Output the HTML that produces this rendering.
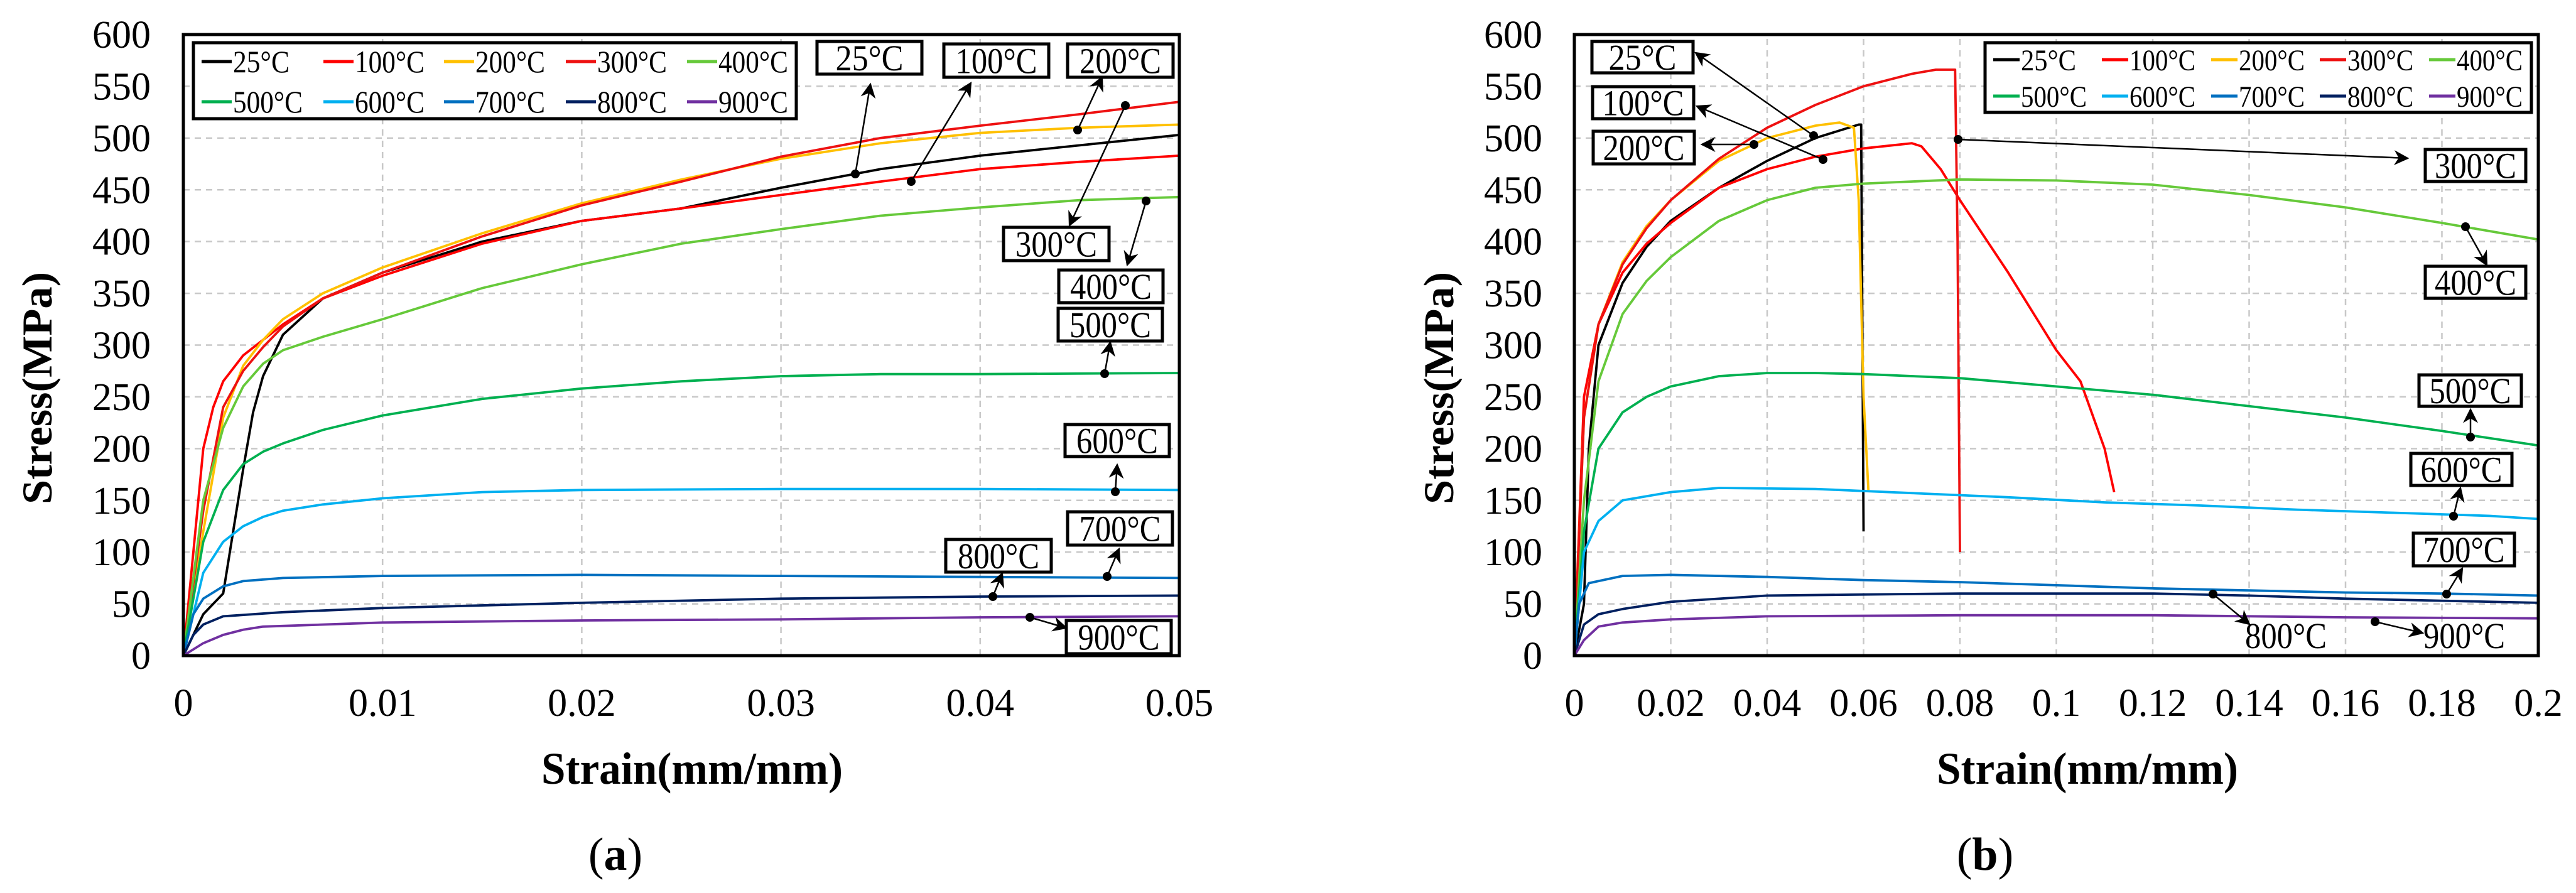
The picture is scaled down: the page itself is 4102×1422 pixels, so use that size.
<!DOCTYPE html>
<html><head><meta charset="utf-8"><style>
html,body{margin:0;padding:0;background:#fff}
svg{display:block}
text{font-family:"Liberation Serif",serif}
</style></head><body>
<svg id="root" width="4102" height="1422" viewBox="0 0 4102 1422" xmlns="http://www.w3.org/2000/svg"></svg>
<script>
// ---- data ----
const seriesNames = ["25°C","100°C","200°C","300°C","400°C","500°C","600°C","700°C","800°C","900°C"];
const seriesColors = ["#000000","#ff0000","#ffc000","#ee1111","#66c93a","#00b050","#00b0f0","#0070c0","#002060","#7030a0"];
const yTicks = [0,50,100,150,200,250,300,350,400,450,500,550,600];
const xTicksA = [0,0.01,0.02,0.03,0.04,0.05];
const xTickLabelsA = ["0","0.01","0.02","0.03","0.04","0.05"];
const xTicksB = [0,0.02,0.04,0.06,0.08,0.1,0.12,0.14,0.16,0.18,0.2];
const xTickLabelsB = ["0","0.02","0.04","0.06","0.08","0.1","0.12","0.14","0.16","0.18","0.2"];

const a25 = [[0,0],[0.001,40],[0.002,60],[0.0025,120],[0.003,180],[0.0035,235],[0.004,270],[0.005,310],[0.007,345],[0.01,370],[0.015,400],[0.02,420],[0.025,432],[0.03,452],[0.035,470],[0.04,483],[0.045,493],[0.05,503]];
const a100 = [[0,0],[0.0005,100],[0.001,200],[0.0015,240],[0.002,265],[0.003,290],[0.005,320],[0.007,345],[0.01,367],[0.015,398],[0.02,420],[0.025,432],[0.03,445],[0.035,458],[0.04,470],[0.045,477],[0.05,483]];
const a200 = [[0,0],[0.001,120],[0.002,230],[0.003,280],[0.004,305],[0.005,325],[0.007,350],[0.01,375],[0.015,408],[0.02,437],[0.025,460],[0.03,480],[0.035,495],[0.04,505],[0.045,510],[0.05,513]];
const a300 = [[0,0],[0.001,140],[0.002,240],[0.003,275],[0.004,298],[0.005,318],[0.007,345],[0.01,370],[0.015,405],[0.02,435],[0.025,458],[0.03,482],[0.035,500],[0.04,512],[0.045,523],[0.05,535]];
const a400 = [[0,0],[0.001,150],[0.002,220],[0.003,260],[0.004,282],[0.005,295],[0.007,308],[0.01,325],[0.015,355],[0.02,378],[0.025,398],[0.03,412],[0.035,425],[0.04,433],[0.045,440],[0.05,443]];
const a500 = [[0,0],[0.001,110],[0.002,160],[0.003,185],[0.004,197],[0.005,205],[0.007,218],[0.01,232],[0.015,248],[0.02,258],[0.025,265],[0.03,270],[0.035,272],[0.04,272],[0.05,273]];
const a600 = [[0,0],[0.001,80],[0.002,110],[0.003,125],[0.004,134],[0.005,140],[0.007,146],[0.01,152],[0.015,158],[0.02,160],[0.03,161],[0.04,161],[0.05,160]];
const a700 = [[0,0],[0.0005,40],[0.001,55],[0.002,67],[0.003,72],[0.005,75],[0.01,77],[0.02,78],[0.03,77],[0.04,76],[0.05,75]];
const a800 = [[0,0],[0.0005,20],[0.001,30],[0.002,38],[0.005,42],[0.01,46],[0.02,51],[0.03,55],[0.04,57],[0.05,58]];
const a900 = [[0,0],[0.001,12],[0.002,20],[0.003,25],[0.004,28],[0.01,32],[0.02,34],[0.03,35],[0.04,37],[0.05,38]];

const b25 = [[0,0],[0.002,50],[0.003,200],[0.005,300],[0.01,360],[0.015,395],[0.02,420],[0.03,452],[0.04,478],[0.05,500],[0.059,513],[0.0595,513],[0.06,120]];
const b100 = [[0,0],[0.002,250],[0.005,320],[0.01,370],[0.015,398],[0.02,418],[0.03,452],[0.04,470],[0.05,482],[0.06,490],[0.07,495],[0.072,492],[0.076,470],[0.08,440],[0.09,370],[0.1,295],[0.105,265],[0.11,200],[0.112,158]];
const b200 = [[0,0],[0.002,230],[0.005,320],[0.01,380],[0.015,415],[0.02,440],[0.03,478],[0.04,500],[0.05,512],[0.055,515],[0.058,510],[0.059,440],[0.06,250],[0.061,160]];
const b300 = [[0,0],[0.002,230],[0.005,320],[0.01,378],[0.015,413],[0.02,440],[0.03,480],[0.04,510],[0.05,532],[0.06,550],[0.07,562],[0.075,566],[0.079,566],[0.0795,400],[0.08,100]];
const b400 = [[0,0],[0.002,150],[0.005,265],[0.01,330],[0.015,362],[0.02,385],[0.03,420],[0.04,440],[0.05,452],[0.06,456],[0.08,460],[0.1,459],[0.12,455],[0.14,445],[0.16,433],[0.18,418],[0.2,402]];
const b500 = [[0,0],[0.002,120],[0.005,200],[0.01,235],[0.015,250],[0.02,260],[0.03,270],[0.04,273],[0.05,273],[0.06,272],[0.08,268],[0.1,260],[0.12,252],[0.14,241],[0.16,230],[0.18,217],[0.2,203]];
const b600 = [[0,0],[0.002,100],[0.005,130],[0.01,150],[0.02,158],[0.03,162],[0.05,161],[0.07,157],[0.09,153],[0.11,148],[0.13,145],[0.15,141],[0.17,138],[0.19,135],[0.2,132]];
const b700 = [[0,0],[0.001,50],[0.003,70],[0.01,77],[0.02,78],[0.04,76],[0.06,73],[0.08,71],[0.1,68],[0.12,65],[0.14,63],[0.16,61],[0.18,60],[0.2,58]];
const b800 = [[0,0],[0.002,30],[0.005,40],[0.01,45],[0.02,52],[0.04,58],[0.06,59],[0.08,60],[0.1,60],[0.12,60],[0.14,58],[0.16,55],[0.18,53],[0.2,51]];
const b900 = [[0,0],[0.002,15],[0.005,28],[0.01,32],[0.02,35],[0.04,38],[0.08,39],[0.12,39],[0.16,37],[0.2,36]];

const seriesA = [a25,a100,a200,a300,a400,a500,a600,a700,a800,a900];
const seriesB = [b25,b100,b200,b300,b400,b500,b600,b700,b800,b900];

const NS = "http://www.w3.org/2000/svg";
const root = document.getElementById('root');
function el(tag, attrs, parent){const e=document.createElementNS(NS,tag);for(const k in attrs)e.setAttribute(k,attrs[k]);(parent||root).appendChild(e);return e;}

const defs = el('defs',{});
const mk = el('marker',{id:'arr',viewBox:'0 0 10 10',refX:'9',refY:'5',markerWidth:'24',markerHeight:'24',orient:'auto',markerUnits:'userSpaceOnUse'},defs);
el('path',{d:'M0,0 L10,5 L0,10 L3,5 Z',fill:'#000'},mk);

function chart(cfg){
  const g = el('g',{});
  
  
  const X = v => cfg.x0 + v / cfg.xmax * (cfg.x1 - cfg.x0);
  const Y = v => cfg.y0 - v / 600 * (cfg.y0 - cfg.y1);
  yTicks.forEach(t=>{ if(t>0&&t<600){ const l=el('line',{x1:cfg.x0,x2:cfg.x1,y1:Y(t),y2:Y(t),stroke:'#c8c8c8','stroke-width':2.5,'stroke-dasharray':'10 8'},g);
      }});
  cfg.xt.forEach(t=>{ if(t>0&&t<cfg.xmax-1e-9){ const l=el('line',{x1:X(t),x2:X(t),y1:cfg.y0,y2:cfg.y1,stroke:'#c8c8c8','stroke-width':2.5,'stroke-dasharray':'10 8'},g);
      }});
  yTicks.forEach(t=>{ const tx=el('text',{x:cfg.ylabX,y:Y(t)+21,'font-size':62,'text-anchor':'end'},g); tx.textContent=t;
      });
  cfg.xt.forEach((t,i)=>{ const tx=el('text',{x:X(t),y:1140,'font-size':62,'text-anchor':'middle'},g); tx.textContent=cfg.xl[i];
      });
  cfg.series.forEach((s,i)=>{
    const p=el('polyline',{points:s.map(d=>X(d[0]).toFixed(1)+','+Y(d[1]).toFixed(1)).join(' '),fill:'none',stroke:seriesColors[i],'stroke-width':3.8,'stroke-linejoin':'round'},g);
    
    
  });
  const fr=el('rect',{x:cfg.x0,y:cfg.y1,width:cfg.x1-cfg.x0,height:cfg.y0-cfg.y1,fill:'none',stroke:'#000','stroke-width':5},g);
   
  const lg=el('g',{},g);
   
  el('rect',{x:cfg.lg[0],y:cfg.lg[1],width:cfg.lg[2]-cfg.lg[0],height:cfg.lg[3]-cfg.lg[1],fill:'#fff',stroke:'#000','stroke-width':5},lg);
  seriesNames.forEach((n,i)=>{
    const cx=cfg.lgCols[i%5], cy=cfg.lgRows[Math.floor(i/5)];
    const e=el('g',{},lg);
     
    el('line',{x1:cx,x2:cx+cfg.lgLine,y1:cy,y2:cy,stroke:seriesColors[i],'stroke-width':5},e);
    const t=el('text',{x:cx+cfg.lgLine+2,y:cy+17,'font-size':cfg.lgFont,textLength:(n.length>4?cfg.lgW5:cfg.lgW4),lengthAdjust:'spacingAndGlyphs'},e); t.textContent=n;
  });
  cfg.ann.forEach(a=>{
    const ag=el('g',{},g);
    
    
    el('line',{x1:a.d[0],y1:a.d[1],x2:a.a[0],y2:a.a[1],stroke:'#000','stroke-width':2.5,'marker-end':'url(#arr)'},ag);
    el('circle',{cx:a.d[0],cy:a.d[1],r:7,fill:'#000'},ag);
    const tl = a.t.length>4?130:108;
    if(a.b){ el('rect',{x:a.b[0],y:a.b[1],width:a.b[2]-a.b[0],height:a.b[3]-a.b[1],fill:'#fff',stroke:'#000','stroke-width':5},ag);
      const t=el('text',{x:(a.b[0]+a.b[2])/2,y:(a.b[1]+a.b[3])/2+20,'font-size':58,'text-anchor':'middle',textLength:tl,lengthAdjust:'spacingAndGlyphs'},ag); t.textContent=a.t;}
    else { const t=el('text',{x:a.p[0],y:a.p[1],'font-size':58,'text-anchor':'middle',textLength:tl,lengthAdjust:'spacingAndGlyphs'},ag); t.textContent=a.t; }
  });
  const xt=el('text',{x:cfg.xTitle,y:1248,'font-size':72,'font-weight':'bold','text-anchor':'middle',textLength:480,lengthAdjust:'spacingAndGlyphs'},g);
  xt.textContent='Strain(mm/mm)';  
  const yt=el('text',{x:0,y:0,'font-size':68,'font-weight':'bold','text-anchor':'middle',textLength:370,lengthAdjust:'spacingAndGlyphs',transform:`translate(${cfg.yTitle},618) rotate(-90)`},g);
  yt.textContent='Stress(MPa)';  
  const cp=el('text',{x:cfg.cap,y:1385,'font-size':74,'text-anchor':'middle'},g);
  cp.innerHTML=cfg.capHtml;  
}

chart({name:'chart-a',x0:292,x1:1878,y0:1044,y1:55,xmax:0.05,xt:xTicksA,xl:xTickLabelsA,series:seriesA,ylabX:240,
  lg:[308,68,1268,189],lgCols:[321,515,707,901,1094],lgRows:[98,162],lgLine:48,lgFont:50,lgW4:90,lgW5:111,
  xTitle:1102,yTitle:82,cap:980,capHtml:'(<tspan font-weight="bold">a</tspan>)',
  ann:[
    {t:'25°C',b:[1301,66,1468,118],d:[1362,277],a:[1386,134]},
    {t:'100°C',b:[1503,70,1670,123],d:[1451,289],a:[1546,132]},
    {t:'200°C',b:[1700,70,1868,123],d:[1716,207],a:[1755,123]},
    {t:'300°C',b:[1598,362,1766,415],d:[1792,168],a:[1703,359]},
    {t:'400°C',b:[1686,430,1852,482],d:[1825,320],a:[1795,422]},
    {t:'500°C',b:[1685,491,1851,543],d:[1759,595],a:[1768,545]},
    {t:'600°C',b:[1696,676,1862,727],d:[1776,783],a:[1779,740]},
    {t:'700°C',b:[1700,815,1867,868],d:[1763,918],a:[1782,874]},
    {t:'800°C',b:[1506,859,1674,911],d:[1581,950],a:[1596,913]},
    {t:'900°C',b:[1698,988,1865,1041],d:[1640,983],a:[1698,1000]}
  ]});

chart({name:'chart-b',x0:2507,x1:4042,y0:1044,y1:55,xmax:0.2,xt:xTicksB,xl:xTickLabelsB,series:seriesB,ylabX:2456,
  lg:[3161,68,4031,179],lgCols:[3174,3347,3521,3694,3868],lgRows:[95,153],lgLine:42,lgFont:48,lgW4:88,lgW5:105,
  xTitle:3324,yTitle:2314,cap:3161,capHtml:'(<tspan font-weight="bold">b</tspan>)',
  ann:[
    {t:'25°C',b:[2535,66,2696,116],d:[2888,216],a:[2700,84]},
    {t:'100°C',b:[2536,138,2697,189],d:[2903,254],a:[2702,169]},
    {t:'200°C',b:[2537,209,2698,261],d:[2793,230],a:[2710,230]},
    {t:'300°C',b:[3862,238,4022,289],d:[3118,222],a:[3834,252]},
    {t:'400°C',b:[3862,424,4022,475],d:[3926,361],a:[3960,422]},
    {t:'500°C',b:[3852,597,4015,647],d:[3934,696],a:[3934,652]},
    {t:'600°C',b:[3839,722,4000,773],d:[3907,822],a:[3918,777]},
    {t:'700°C',b:[3843,849,4004,901],d:[3896,946],a:[3921,905]},
    {t:'800°C',p:[3640,1032],d:[3524,946],a:[3582,994]},
    {t:'900°C',p:[3924,1032],d:[3782,990],a:[3858,1008]}
  ]});
</script>
</body></html>
